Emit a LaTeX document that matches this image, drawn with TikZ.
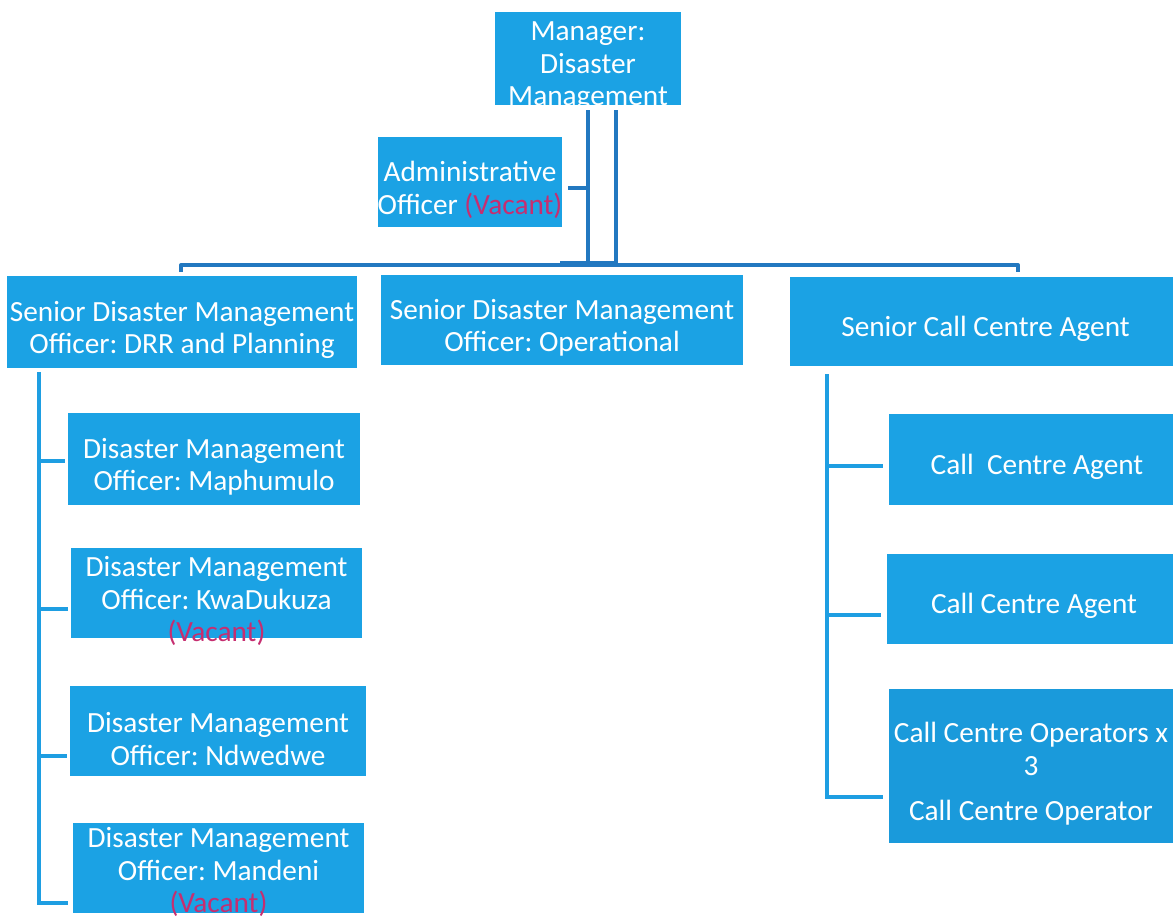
\documentclass[tikz,border=0pt]{standalone}
\usepackage{fontspec}
\setmainfont{Carlito}
\usetikzlibrary{calc}
\frenchspacing
\definecolor{boxblue}{RGB}{27,162,228}
\definecolor{opsblue}{RGB}{26,154,219}
\definecolor{linkdark}{RGB}{34,120,192}
\definecolor{linkblue}{RGB}{30,158,226}
\definecolor{vacant}{RGB}{198,46,112}
\newcommand\orgfont{\fontsize{29.3}{32.5}\selectfont}
\newcommand\vac{\textcolor{vacant}{(Vacant)}}
\begin{document}
\begin{tikzpicture}[x=1pt,y=-1pt,
  orgbox/.style={fill=boxblue, draw=none, inner sep=0pt},
  boxtext/.style={text=white, align=center, inner sep=0pt, font=\orgfont},
  upper/.style={draw=linkdark, line width=4pt},
  trunk/.style={draw=linkblue, line width=4pt}]
\useasboundingbox (0,0) rectangle (1173,918);

% head of the unit
\node[orgbox, minimum width=186pt, minimum height=93pt] (mgr) at (588,58.5) {};
\node[boxtext] (mgrtext) at ($(mgr)+(0,8)$) {Manager:\\Disaster\\Management};

% staff post
\node[orgbox, minimum width=184pt, minimum height=90pt] (adm) at (470,182) {};
\node[boxtext] (admtext) at ($(adm)+(0,8)$) {Administrative\\Officer \vac};

% senior officers
\node[orgbox, minimum width=350pt, minimum height=92pt] (drr) at (182,322) {};
\node[boxtext] (drrtext) at ($(drr)+(0,8)$)
  {Senior Disaster Management\\Officer: DRR and Planning};
\node[orgbox, minimum width=362pt, minimum height=90pt] (oper) at (562,320) {};
\node[boxtext] (opertext) at ($(oper)+(0,8)$)
  {Senior Disaster Management\\Officer: Operational};
\node[orgbox, minimum width=383pt, minimum height=89pt] (scca) at (981.5,321.5) {};
\node[boxtext] (sccatext) at ($(scca)+(4,7)$) {Senior Call Centre Agent};

% disaster management officers
\node[orgbox, minimum width=292pt, minimum height=92pt] (maph) at (214,459) {};
\node[boxtext] (maphtext) at ($(maph)+(0,8)$) {Disaster Management\\Officer: Maphumulo};
\node[orgbox, minimum width=291pt, minimum height=90pt] (kwa) at (216.5,593) {};
\node[boxtext] (kwatext) at ($(kwa)+(0,8)$)
  {Disaster Management\\Officer: KwaDukuza\\\vac};
\node[orgbox, minimum width=296pt, minimum height=90pt] (ndw) at (218,731) {};
\node[boxtext] (ndwtext) at ($(ndw)+(0,8)$) {Disaster Management\\Officer: Ndwedwe};
\node[orgbox, minimum width=291pt, minimum height=90pt] (mand) at (218.5,868) {};
\node[boxtext] (mandtext) at ($(mand)+(0,4)$)
  {Disaster Management\\Officer: Mandeni\\\vac};

% call centre staff
\node[orgbox, minimum width=284pt, minimum height=91pt] (cca1) at (1031,459.5) {};
\node[boxtext] (cca1text) at ($(cca1)+(6,7)$) {Call\ \ Centre Agent};
\node[orgbox, minimum width=286pt, minimum height=90pt] (cca2) at (1030,599) {};
\node[boxtext] (cca2text) at ($(cca2)+(4,7)$) {Call Centre Agent};
\node[orgbox, fill=opsblue, minimum width=284pt, minimum height=154pt] (ops) at (1031,766) {};
\node[boxtext] (opstext) at ($(ops)+(0,8)$)
  {Call Centre Operators x\\3\\[13pt]Call Centre Operator};

% links below the manager
\coordinate (busL) at (181,265);
\coordinate (busR) at (1018,265);
\coordinate (m1) at ([yshift=-5pt]mgr.south);
\coordinate (m2) at ([xshift=28pt,yshift=-5pt]mgr.south);
\draw[upper] (m1) -- (m1 |- busL);
\draw[upper] (m2) -- (m2 |- busL);
\coordinate (a1) at ([xshift=6pt,yshift=-6pt]adm.east);
\draw[upper] (a1) -- (a1 -| m1);
\draw[upper, line join=round] ([yshift=-7pt]busL) -- (busL) -- (busR) -- ([yshift=-7pt]busR);
\draw[upper] ([xshift=-28pt,yshift=2pt]m1 |- busL) -- ([yshift=2pt]m2 |- busL);

% left branch
\coordinate (lvx) at (39,0);
\coordinate (lt) at ($(drr.south -| lvx)+(0,4)$);
\foreach \n/\d in {maph/2,kwa/16,ndw/25}
  \draw[trunk] ($(\n.west -| lvx)+(0,\d)$) -- ($(\n.west)+(-3,\d)$);
\draw[trunk] (lt) -- ($(mand.west -| lvx)+(0,35)$) -- ($(mand.west)+(-5,35)$);

% right branch
\coordinate (rvx) at (827,0);
\coordinate (rt) at ($(scca.south -| rvx)+(0,8)$);
\foreach \n/\d in {cca1/6,cca2/16}
  \draw[trunk] ($(\n.west -| rvx)+(0,\d)$) -- ($(\n.west)+(-6,\d)$);
\draw[trunk] (rt) -- ($(ops.west -| rvx)+(0,31)$) -- ($(ops.west)+(-6,31)$);
\end{tikzpicture}
\end{document}
